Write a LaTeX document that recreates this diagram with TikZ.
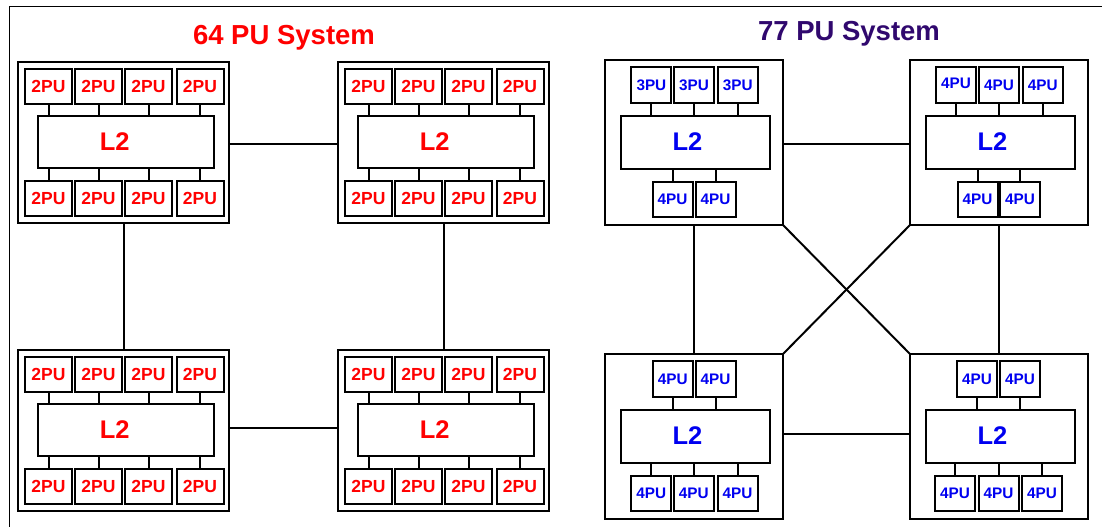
\documentclass[tikz,border=0pt]{standalone}
\usepackage{fontspec}
\setmainfont{Liberation Sans}
\definecolor{pured}{RGB}{255,0,0}
\definecolor{publue}{RGB}{0,0,240}
\definecolor{titlepurple}{RGB}{48,8,110}
\tikzset{
  frameline/.style={line width=1pt, draw=black},
  modbox/.style={draw=black, line width=2pt, inner sep=0pt, outer sep=0pt, fill=white},
  lpubox/.style={modbox, minimum width=47pt, minimum height=35pt, font=\fontsize{17.5}{17.5}\selectfont\bfseries, text=pured},
  rpubox/.style={modbox, minimum width=40pt, minimum height=35.5pt, font=\fontsize{15.3}{15.3}\selectfont\bfseries, text=publue},
  ltext/.style={inner sep=0pt, font=\fontsize{25.5}{25.5}\selectfont\bfseries},
  titletext/.style={inner sep=0pt, font=\fontsize{27.5}{27.5}\selectfont\bfseries, anchor=base},
  link/.style={draw=black, line width=2pt},
}
% left-system module: name, x, y (top-left corner)
\newcommand{\leftmod}[3]{%
\begin{scope}[shift={(#2,#3)}]
\node[modbox, minimum width=211pt, minimum height=161pt] (#1) at (105.5,80.5) {};
\node[modbox, minimum width=175.5pt, minimum height=52pt] (#1L) at (107.75,80) {};
\node[ltext, text=pured] (#1Lt) at (96.75,79.5) {L2};
\foreach \i/\cx in {1/30.5,2/80.5,3/130.5,4/182}{%
  \node[lpubox] (#1t\i) at (\cx,24.5) {2PU\hspace{4pt}};
  \node[lpubox] (#1b\i) at (\cx,136) {2PU\hspace{4pt}};
  \draw[link] (#1t\i.south) -- (#1t\i.south |- #1L.north);
  \draw[link] (#1b\i.north) -- (#1b\i.north |- #1L.south);
}
\end{scope}}
% right-system module: name, x, y, top list, bottom list
\newcommand{\rightmod}[5]{%
\begin{scope}[shift={(#2,#3)}]
\node[modbox, minimum width=178pt, minimum height=165pt] (#1) at (89,82.5) {};
\node[modbox, minimum width=149pt, minimum height=53pt] (#1L) at (90,82) {};
\node[ltext, text=publue] (#1Lt) at (82.5,82) {L2};
\foreach \i/\cx/\tx/\rs in {#4}{%
  \node[rpubox] (#1t\i) at (\cx,25) {\raisebox{\rs pt}{\tx}};
  \draw[link] (#1t\i.south) -- (#1t\i.south |- #1L.north);
}
\foreach \i/\cx/\tx/\rs in {#5}{%
  \node[rpubox] (#1b\i) at (\cx,139.5) {\raisebox{\rs pt}{\tx}};
  \draw[link] (#1b\i.north) -- (#1b\i.north |- #1L.south);
}
\end{scope}}
\begin{document}
\begin{tikzpicture}[x=1pt,y=-1pt]
\useasboundingbox (0,0) rectangle (1102,527);
% outer frame
\coordinate (fTR) at (1102,7);
\coordinate (fTL) at (9.5,7);
\coordinate (fBL) at (9.5,527);
\draw[frameline] (fTR) -- (fTL) -- (fBL);
% titles
\node[titletext, text=pured] (t64) at (284,44.3) {64 PU System};
\node[titletext, text=titlepurple] (t77) at (849,40.3) {77 PU System};
% left system
\leftmod{A}{18}{62}
\leftmod{B}{338}{62}
\leftmod{C}{18}{350}
\leftmod{D}{338}{350}
\draw[link] ([yshift=-1.5pt]A.east) -- ([yshift=-1.5pt]B.west);
\draw[link] ([yshift=3pt]C.east) -- ([yshift=3pt]D.west);
\draw[link] (A) -- (C);
\draw[link] (B) -- (D);
% right system
\rightmod{P}{605}{60}{1/46.4/3PU/0,2/89/3PU/0,3/132.7/3PU/0}{1/67.5/4PU/0,2/110.5/4PU/0}
\rightmod{Q}{910}{60}{1/46/4PU/3,2/89/4PU/0,3/132.7/4PU/0}{1/67.5/4PU/0,2/110/4PU/1.5}
\rightmod{R}{605}{354}{1/67.7/4PU/0,2/110.5/4PU/0}{1/46.3/4PU/0,2/88.8/4PU/0,3/132.5/4PU/0}
\rightmod{S}{910}{354}{1/67/4PU/0,2/110/4PU/0}{1/45/4PU/-3,2/88.5/4PU/0,3/132/4PU/0}
\draw[link] ([yshift=-1.5pt]P.east) -- ([yshift=-1.5pt]Q.west);
\draw[link] ([yshift=2.8pt]R.east) -- ([yshift=2.8pt]S.west);
\draw[link] (P) -- (R);
\draw[link] (Q) -- (S);
\draw[link] (P.south east) -- (S.north west);
\draw[link] (Q.south west) -- (R.north east);
\end{tikzpicture}
\end{document}
